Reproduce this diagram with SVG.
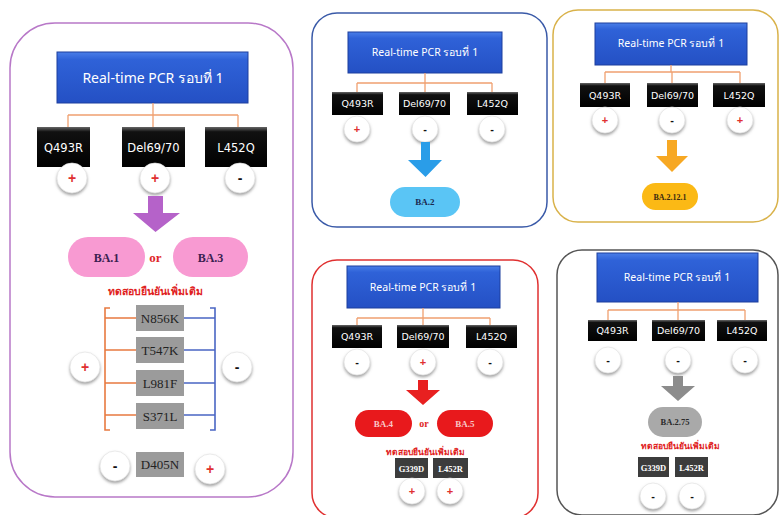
<svg xmlns="http://www.w3.org/2000/svg" width="779" height="515" viewBox="0 0 779 515">
<defs>
<linearGradient id="hdr" x1="0" y1="0" x2="0" y2="1"><stop offset="0" stop-color="#4a7ee8"/><stop offset="0.15" stop-color="#2f62d8"/><stop offset="1" stop-color="#2450c4"/></linearGradient>
<linearGradient id="blk" x1="0" y1="0" x2="0" y2="1"><stop offset="0" stop-color="#666"/><stop offset="0.12" stop-color="#111"/><stop offset="1" stop-color="#000"/></linearGradient>
<filter id="sh" x="-30%" y="-30%" width="160%" height="170%"><feDropShadow dx="0" dy="2" stdDeviation="1.5" flood-color="#777" flood-opacity="0.7"/></filter>
</defs>
<style>
.panel{fill:#fff;stroke-width:1.5}
.hdr{fill:url(#hdr);stroke:#1d3f9e;stroke-width:1}
.ht{fill:#fff;font-family:"Noto Sans","DejaVu Sans",sans-serif;text-anchor:middle}
.bx{fill:url(#blk)}
.bt{fill:#fff;font-family:"DejaVu Sans","Noto Sans",sans-serif;text-anchor:middle}
.con{fill:none;stroke:#f0a070;stroke-width:1.3}
.c{fill:#fff;stroke:#ddd;stroke-width:0.6;filter:url(#sh)}
.p{fill:#e03030;font-family:"Liberation Sans",sans-serif;text-anchor:middle;font-weight:bold}
.m{fill:#111;font-family:"Liberation Sans",sans-serif;text-anchor:middle;font-weight:bold}
.gb{fill:#9b9b9b}
.gt{fill:#222;font-family:"Liberation Serif",serif;text-anchor:middle}
.db{fill:#3c3c3c}
.dt{fill:#fff;font-family:"Liberation Serif",serif;text-anchor:middle;font-weight:bold}
.ba{font-family:"Liberation Serif",serif;text-anchor:middle;font-weight:bold}
.or{fill:#e02828;font-family:"Liberation Serif",serif;text-anchor:middle;font-weight:bold}
.th{fill:#e02020;font-family:"Noto Sans","DejaVu Sans",sans-serif;text-anchor:middle;font-weight:bold}
</style>

<!-- Panel 1 -->
<g id="panel1">
<rect class="panel" x="10" y="23" width="283" height="474" rx="45" stroke="#b878c8"/>
<g id="p1-header"><rect class="hdr" x="57" y="52" width="191" height="51"/><text class="ht" x="153" y="83" font-size="14">Real-time PCR รอบที่ 1</text></g>
<g id="p1-conn"><path class="con" d="M153 103V115M68 115H238M68 115V127M153 115V127M238 115V127"/></g>
<g id="p1-q"><rect class="bx" x="37" y="127" width="53" height="40"/><text class="bt" x="63.5" y="152" font-size="11.5">Q493R</text></g>
<g id="p1-d"><rect class="bx" x="122" y="127" width="63" height="40"/><text class="bt" x="153.5" y="152" font-size="11.5">Del69/70</text></g>
<g id="p1-l"><rect class="bx" x="205" y="127" width="62" height="40"/><text class="bt" x="236" y="152" font-size="11.5">L452Q</text></g>
<g id="p1-c1"><circle class="c" cx="72" cy="178" r="15"/><text class="p" x="72" y="183" font-size="14">+</text></g>
<g id="p1-c2"><circle class="c" cx="155" cy="178" r="15"/><text class="p" x="155" y="183" font-size="14">+</text></g>
<g id="p1-c3"><circle class="c" cx="240" cy="178" r="15"/><text class="m" x="240" y="183" font-size="14">-</text></g>
<polygon points="148,196 163,196 163,213 180,213 155.5,232 133,213 148,213" fill="#b562c9"/>
<g id="p1-ba1"><rect x="68" y="237" width="77" height="40" rx="20" fill="#f89ad2"/><text class="ba" x="106.5" y="262" font-size="12" fill="#3a2050">BA.1</text></g>
<text class="or" x="155.5" y="262" font-size="13">or</text>
<g id="p1-ba3"><rect x="173" y="237" width="75" height="40" rx="20" fill="#f89ad2"/><text class="ba" x="210.5" y="262" font-size="12" fill="#3a2050">BA.3</text></g>
<text class="th" x="155" y="295" font-size="10.5">ทดสอบยืนยันเพิ่มเติม</text>
<g id="p1-brackets">
<path d="M110 308H105V430H110M105 318H136M105 350H136M105 383H136M105 415H136" fill="none" stroke="#e87a40" stroke-width="1.6"/>
<path d="M210 308H215V430H210M184 318H215M184 350H215M184 383H215M184 415H215" fill="none" stroke="#4a66c4" stroke-width="1.6"/>
</g>
<g id="p1-n856k"><rect class="gb" x="136" y="305" width="48" height="26"/><text class="gt" x="160" y="323" font-size="13">N856K</text></g>
<g id="p1-t547k"><rect class="gb" x="136" y="337" width="48" height="26"/><text class="gt" x="160" y="355" font-size="13">T547K</text></g>
<g id="p1-l981f"><rect class="gb" x="136" y="370" width="48" height="26"/><text class="gt" x="160" y="388" font-size="13">L981F</text></g>
<g id="p1-s371l"><rect class="gb" x="136" y="403" width="48" height="26"/><text class="gt" x="160" y="421" font-size="13">S371L</text></g>
<g id="p1-cl"><circle class="c" cx="85" cy="367" r="15"/><text class="p" x="85" y="372" font-size="14">+</text></g>
<g id="p1-cr"><circle class="c" cx="237" cy="367" r="15"/><text class="m" x="237" y="372" font-size="14">-</text></g>
<g id="p1-d405n"><rect class="gb" x="136" y="452" width="48" height="25"/><text class="gt" x="160" y="469" font-size="13">D405N</text></g>
<g id="p1-cd1"><circle class="c" cx="115" cy="466" r="15"/><text class="m" x="115" y="471" font-size="14">-</text></g>
<g id="p1-cd2"><circle class="c" cx="210" cy="469" r="15"/><text class="p" x="210" y="474" font-size="14">+</text></g>
</g>

<!-- Panel 2 -->
<g id="panel2">
<rect class="panel" x="312" y="13" width="235" height="214" rx="25" stroke="#3a5aa8"/>
<g id="p2-header"><rect class="hdr" x="348" y="32" width="154" height="41"/><text class="ht" x="425" y="56" font-size="10.5">Real-time PCR รอบที่ 1</text></g>
<g id="p2-conn"><path class="con" d="M425 73V83M357 83H492M357 83V92M425 83V92M492 83V92"/></g>
<g id="p2-q"><rect class="bx" x="332" y="92" width="51" height="23"/><text class="bt" x="357.5" y="107" font-size="9.5">Q493R</text></g>
<g id="p2-d"><rect class="bx" x="399" y="92" width="51" height="23"/><text class="bt" x="424.5" y="107" font-size="9.5">Del69/70</text></g>
<g id="p2-l"><rect class="bx" x="467" y="92" width="51" height="23"/><text class="bt" x="492.5" y="107" font-size="9.5">L452Q</text></g>
<g id="p2-c1"><circle class="c" cx="357" cy="129" r="13"/><text class="p" x="357" y="133" font-size="11">+</text></g>
<g id="p2-c2"><circle class="c" cx="425" cy="129" r="13"/><text class="m" x="425" y="133" font-size="11">-</text></g>
<g id="p2-c3"><circle class="c" cx="492" cy="129" r="13"/><text class="m" x="492" y="133" font-size="11">-</text></g>
<polygon points="421,142 430,142 430,160 442,160 425.5,177 408,160 421,160" fill="#2a9de8"/>
<g id="p2-ba2"><rect x="390" y="187" width="70" height="30" rx="15" fill="#5ac5f5"/><text class="ba" x="425" y="205" font-size="9" fill="#1a2a50">BA.2</text></g>
</g>

<!-- Panel 3 -->
<g id="panel3">
<rect class="panel" x="553" y="10" width="225" height="212" rx="25" stroke="#d9b24a"/>
<g id="p3-header"><rect class="hdr" x="595" y="23" width="152" height="42"/><text class="ht" x="671" y="47" font-size="10.5">Real-time PCR รอบที่ 1</text></g>
<g id="p3-conn"><path class="con" d="M671 65V72M605 72H740M605 72V83M672 72V83M740 72V83"/></g>
<g id="p3-q"><rect class="bx" x="580" y="83" width="50" height="24"/><text class="bt" x="605" y="99" font-size="9.5">Q493R</text></g>
<g id="p3-d"><rect class="bx" x="647" y="83" width="51" height="24"/><text class="bt" x="672.5" y="99" font-size="9.5">Del69/70</text></g>
<g id="p3-l"><rect class="bx" x="713" y="83" width="52" height="24"/><text class="bt" x="739" y="99" font-size="9.5">L452Q</text></g>
<g id="p3-c1"><circle class="c" cx="605" cy="120" r="13"/><text class="p" x="605" y="124" font-size="11">+</text></g>
<g id="p3-c2"><circle class="c" cx="672" cy="120" r="13"/><text class="m" x="672" y="124" font-size="11">-</text></g>
<g id="p3-c3"><circle class="c" cx="740" cy="120" r="13"/><text class="p" x="740" y="124" font-size="11">+</text></g>
<polygon points="667,140 677,140 677,156 688,156 672,172 656,156 667,156" fill="#f7a823"/>
<g id="p3-ba2121"><rect x="642" y="183" width="56" height="27" rx="13.5" fill="#fbb915"/><text class="ba" x="670" y="200" font-size="8" fill="#3a2a10">BA.2.12.1</text></g>
</g>

<!-- Panel 4 -->
<g id="panel4">
<rect class="panel" x="312" y="260" width="226" height="258" rx="25" stroke="#e03030"/>
<g id="p4-header"><rect class="hdr" x="347" y="266" width="153" height="42"/><text class="ht" x="423" y="291" font-size="10.5">Real-time PCR รอบที่ 1</text></g>
<g id="p4-conn"><path class="con" d="M423 308V318M357 318H490M357 318V325M423 318V325M490 318V325"/></g>
<g id="p4-q"><rect class="bx" x="332" y="325" width="50" height="23"/><text class="bt" x="357" y="340" font-size="9.5">Q493R</text></g>
<g id="p4-d"><rect class="bx" x="397" y="325" width="52" height="23"/><text class="bt" x="423" y="340" font-size="9.5">Del69/70</text></g>
<g id="p4-l"><rect class="bx" x="466" y="325" width="51" height="23"/><text class="bt" x="491.5" y="340" font-size="9.5">L452Q</text></g>
<g id="p4-c1"><circle class="c" cx="357" cy="362" r="13"/><text class="m" x="357" y="366" font-size="11">-</text></g>
<g id="p4-c2"><circle class="c" cx="423" cy="362" r="13"/><text class="p" x="423" y="366" font-size="11">+</text></g>
<g id="p4-c3"><circle class="c" cx="490" cy="362" r="13"/><text class="m" x="490" y="366" font-size="11">-</text></g>
<polygon points="418,380 428,380 428,390 440,390 423,405 406,390 418,390" fill="#e82020"/>
<g id="p4-ba4"><rect x="355" y="410" width="57" height="27" rx="13.5" fill="#e8191c"/><text class="ba" x="383.5" y="427" font-size="9" fill="#f8c8c8">BA.4</text></g>
<text class="or" x="424" y="427" font-size="10">or</text>
<g id="p4-ba5"><rect x="437" y="410" width="56" height="27" rx="13.5" fill="#e8191c"/><text class="ba" x="465" y="427" font-size="9" fill="#f8c8c8">BA.5</text></g>
<text class="th" x="425" y="455" font-size="8.5">ทดสอบยืนยันเพิ่มเติม</text>
<g id="p4-g339d"><rect class="db" x="395" y="458" width="33" height="20"/><text class="dt" x="411.5" y="472" font-size="8.5">G339D</text></g>
<g id="p4-l452r"><rect class="db" x="433" y="458" width="35" height="20"/><text class="dt" x="450.5" y="472" font-size="8.5">L452R</text></g>
<g id="p4-c4"><circle class="c" cx="412" cy="491" r="13"/><text class="p" x="412" y="495" font-size="11">+</text></g>
<g id="p4-c5"><circle class="c" cx="450" cy="491" r="13"/><text class="p" x="450" y="495" font-size="11">+</text></g>
</g>

<!-- Panel 5 -->
<g id="panel5">
<rect class="panel" x="557" y="250" width="221" height="265" rx="25" stroke="#555"/>
<g id="p5-header"><rect class="hdr" x="597" y="253" width="161" height="49"/><text class="ht" x="677" y="281" font-size="10.5">Real-time PCR รอบที่ 1</text></g>
<g id="p5-conn"><path class="con" d="M678 302V310M608 310H745M608 310V320M678 310V320M745 310V320"/></g>
<g id="p5-q"><rect class="bx" x="588" y="320" width="49" height="21"/><text class="bt" x="612.5" y="334" font-size="9.5">Q493R</text></g>
<g id="p5-d"><rect class="bx" x="652" y="320" width="53" height="21"/><text class="bt" x="678.5" y="334" font-size="9.5">Del69/70</text></g>
<g id="p5-l"><rect class="bx" x="717" y="320" width="50" height="21"/><text class="bt" x="742" y="334" font-size="9.5">L452Q</text></g>
<g id="p5-c1"><circle class="c" cx="608" cy="360" r="13"/><text class="m" x="608" y="364" font-size="11">-</text></g>
<g id="p5-c2"><circle class="c" cx="678" cy="360" r="13"/><text class="m" x="678" y="364" font-size="11">-</text></g>
<g id="p5-c3"><circle class="c" cx="745" cy="360" r="13"/><text class="m" x="745" y="364" font-size="11">-</text></g>
<polygon points="673,376 683,376 683,386 695,386 678,401 661,386 673,386" fill="#8c8c8c"/>
<g id="p5-ba275"><rect x="648" y="407" width="54" height="30" rx="15" fill="#a9a9a9"/><text class="ba" x="675" y="425" font-size="8.5" fill="#2a2a2a">BA.2.75</text></g>
<text class="th" x="680" y="449" font-size="8.5">ทดสอบยืนยันเพิ่มเติม</text>
<g id="p5-g339d"><rect class="db" x="638" y="457" width="31" height="20"/><text class="dt" x="653.5" y="471" font-size="8.5">G339D</text></g>
<g id="p5-l452r"><rect class="db" x="675" y="457" width="33" height="20"/><text class="dt" x="691.5" y="471" font-size="8.5">L452R</text></g>
<g id="p5-c4"><circle class="c" cx="653" cy="496" r="13"/><text class="m" x="653" y="500" font-size="11">-</text></g>
<g id="p5-c5"><circle class="c" cx="692" cy="496" r="13"/><text class="m" x="692" y="500" font-size="11">-</text></g>
</g>
</svg>
